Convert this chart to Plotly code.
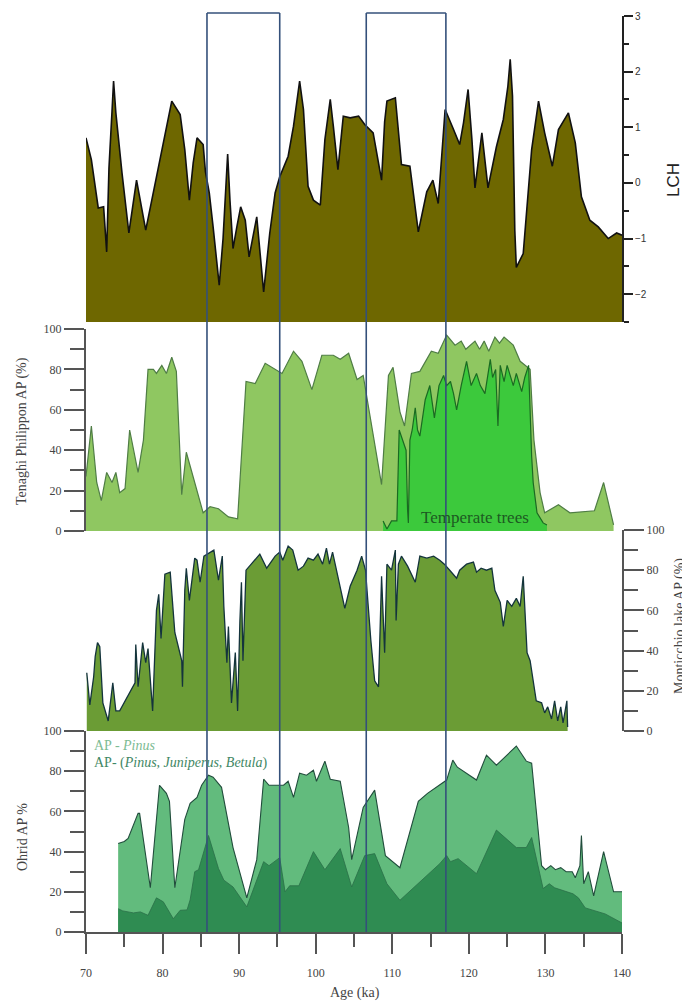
import plotly.graph_objects as go

# page body has an 8px default margin; the figure is sized/positioned to compensate
PAGE_W, PAGE_H, OFF = 690, 1003, 8
W, H = PAGE_W - OFF, PAGE_H - OFF

# ---------------- data ----------------
lch_age = [70.0, 70.7, 71.6, 72.3, 72.7, 73.0, 73.4, 73.6, 73.9, 74.7, 75.6, 76.6, 77.8, 79.2, 80.1, 81.2, 82.3,
           82.9, 83.5, 84.0, 84.5, 85.3, 85.6, 86.1, 86.6, 87.4, 87.9, 88.2, 88.5, 88.8, 89.2, 89.7, 90.2, 90.8,
           91.3, 92.3, 92.8, 93.2, 94.0, 94.7, 95.3, 96.4, 97.1, 97.9, 98.4, 99.0, 99.7, 100.6, 101.2, 101.9,
           102.3, 102.9, 103.6, 104.5, 105.6, 106.4, 107.5, 108.6, 109.0, 109.3, 110.4, 111.2, 112.3, 113.4,
           114.5, 115.3, 116.0, 116.9, 118.0, 118.8, 119.3, 119.9, 120.4, 120.8, 121.7, 122.5, 123.6, 124.5,
           125.1, 125.4, 125.7, 126.0, 126.2, 127.1, 128.2, 129.1, 129.9, 130.9, 131.7, 133.0, 133.9, 134.7,
           135.8, 136.9, 138.2, 139.3, 140.0]
lch_val = [0.81, 0.42, -0.45, -0.43, -1.24, 0.27, 1.29, 1.83, 1.26, 0.18, -0.9, 0.05, -0.85, 0.11, 0.72, 1.47, 1.23,
           0.6, -0.31, 0.36, 0.81, 0.69, 0.2, -0.18, -0.79, -1.84, -1.0, -0.31, 0.52, -0.31, -1.18, -0.79, -0.43, -0.67,
           -1.33, -0.61, -1.33, -1.96, -0.9, -0.18, 0.11, 0.48, 1.02, 1.83, 1.32, -0.06, -0.31, -0.4, 0.78, 1.5,
           1.02, 0.24, 1.2, 1.17, 1.2, 1.05, 0.9, 0.05, 1.1, 1.47, 1.53, 0.33, 0.3, -0.88,
           -0.16, 0.05, -0.37, 1.32, 0.96, 0.69, 1.08, 1.68, 0.78, -0.09, 0.9, -0.09, 0.65, 1.14,
           1.74, 2.22, 1.56, -0.85, -1.52, -1.27, 0.6, 1.47, 0.9, 0.3, 0.96, 1.26, 0.72, -0.25,
           -0.67, -0.79, -1.0, -0.9, -0.94]
LCH_MIN, LCH_MAX = -2.5, 3

ten_age = [70.0, 70.7, 71.4, 72.0, 72.7, 73.4, 73.9, 74.4, 75.1, 75.7, 76.8, 77.5, 78.1, 78.8, 79.2, 79.9, 80.5,
           81.2, 81.8, 82.5, 83.1, 85.3, 86.2, 87.3, 88.6, 89.8, 90.9, 92.1, 93.4, 94.7, 95.6, 97.1, 98.2, 99.5,
           100.8, 102.3, 103.2, 104.3, 105.4, 106.2, 108.6, 109.5, 110.1, 111.0, 111.6, 112.5, 113.6, 115.1,
           116.0, 117.1, 118.2, 119.0, 119.6, 120.8, 121.4, 122.0, 122.6, 123.4, 124.0, 124.6, 125.8, 126.7,
           128.0, 128.5, 129.3, 129.9, 131.7, 133.2, 135.8, 136.4, 137.6, 138.9]
ten_val = [27, 52, 24, 15, 29, 24, 29, 19, 21, 50, 29, 45, 80, 80, 78, 82, 78,
           86, 79, 18, 39, 9, 12, 11, 7, 6, 74, 73, 83, 80, 78, 89, 84, 70,
           87, 87, 85, 88, 75, 77, 23, 77, 81, 59, 52, 78, 79, 89,
           88, 97, 92, 94, 90, 94, 90, 94, 89, 96, 93, 96, 92, 84,
           80, 45, 19, 9, 13, 9, 10, 10, 24, 3]

temp_age = [108.8, 109.3, 109.9, 110.6, 110.9, 111.3, 111.8, 112.0, 112.1, 112.3, 112.6, 113.0, 113.3, 113.6,
            114.0, 114.3, 114.9, 115.5, 116.1, 116.7, 117.1, 117.6, 118.0, 118.4, 119.0, 119.3, 119.7, 120.3,
            121.0, 121.5, 122.1, 122.8, 123.1, 123.5, 123.8, 124.1, 124.6, 125.0, 125.8, 126.2, 126.9, 127.3,
            127.8, 128.2, 128.4, 128.9, 129.7, 130.2]
temp_val = [5, 1, 5, 5, 50, 45, 40, 10, 4, 45, 50, 61, 50, 47,
            58, 65, 72, 56, 72, 77, 72, 74, 68, 60, 72, 77, 84, 72,
            78, 72, 68, 85, 76, 80, 52, 82, 74, 82, 72, 78, 69, 76,
            82, 37, 24, 9, 4, 3]

mon_age = [70.1, 70.5, 71.0, 71.2, 71.5, 71.8, 72.2, 72.9, 73.5, 73.9, 74.4, 75.7, 76.4, 76.5, 76.8, 77.4, 77.8,
           78.1, 78.7, 79.2, 79.5, 79.8, 80.3, 81.0, 81.6, 82.5, 82.6, 82.9, 83.1, 83.5, 84.2, 84.5, 84.9, 85.4,
           85.9, 86.7, 87.3, 87.8, 88.0, 88.4, 88.6, 89.0, 89.5, 89.8, 90.1, 90.3, 90.5, 90.9, 91.8, 92.7, 93.6,
           94.7, 95.3, 95.7, 96.4, 97.0, 97.7, 98.4, 99.0, 99.7, 100.3, 100.9, 101.4, 101.8, 102.2, 102.7, 103.4,
           103.8, 104.5, 105.4, 106.0, 106.5, 107.2, 107.7, 108.2, 108.4, 108.6, 109.0, 109.3, 109.9, 110.4,
           110.5, 110.8, 111.2, 112.0, 113.0, 113.6, 114.5, 115.4, 116.2, 116.8, 117.5, 118.4, 118.8, 119.7,
           120.6, 121.0, 121.6, 122.3, 123.0, 123.4, 124.1, 124.5, 125.0, 125.6, 126.2, 126.7, 127.1, 127.6,
           128.0, 128.8, 129.5, 129.9, 130.3, 130.8, 131.2, 131.6, 132.0, 132.3, 132.8, 132.9]
mon_val = [29, 13, 27, 37, 44, 42, 14, 5, 24, 10, 10, 19, 24, 43, 22, 44, 34,
           41, 10, 60, 68, 46, 78, 79, 49, 35, 22, 70, 81, 65, 86, 85, 74, 87,
           88, 90, 75, 87, 62, 34, 52, 14, 39, 10, 55, 74, 35, 80, 84, 88, 81,
           87, 89, 85, 92, 90, 80, 82, 86, 85, 88, 83, 91, 83, 89, 80, 67,
           61, 72, 80, 87, 80, 45, 25, 22, 55, 77, 39, 83, 80, 90,
           55, 83, 87, 82, 74, 87, 86, 87, 85, 83, 80, 76, 80, 83,
           84, 79, 81, 80, 81, 70, 64, 52, 65, 62, 66, 62, 77, 39,
           35, 15, 14, 9, 12, 6, 15, 5, 12, 4, 15, 2]

ohr_pinus_age = [74.2, 75.0, 75.5, 76.8, 77.0, 78.4, 79.6, 80.2, 80.5, 80.9, 81.6, 82.9, 83.6, 84.5, 85.1, 86.0,
                 86.6, 87.7, 89.2, 91.0, 92.3, 93.2, 93.9, 95.3, 95.8, 96.4, 97.1, 97.9, 98.8, 99.7, 100.1, 101.2,
                 101.9, 103.2, 104.3, 104.7, 106.2, 107.7, 109.1, 111.0, 113.4, 114.6, 116.2, 117.1, 117.9, 118.5,
                 121.0, 122.3, 123.6, 126.2, 127.5, 128.2, 129.5, 130.0, 130.7, 131.3, 132.0, 132.7, 133.5, 133.9,
                 134.5, 134.7, 135.0, 135.6, 136.3, 137.6, 138.9, 140.0]
ohr_pinus_val = [44, 45, 46.5, 59, 59, 22, 73, 70, 69, 65, 22, 56, 64, 67, 73, 78,
                 77, 72, 42, 17, 36, 76, 73, 73, 73, 75, 67, 79, 78, 80.5, 75, 85,
                 76, 75, 52, 36, 62, 70.6, 38, 32, 65, 69, 73, 75.6, 85.5, 82,
                 75.6, 88, 83, 92.5, 85, 84, 33, 31, 33, 31, 32, 30, 30, 27,
                 33, 48, 24, 30, 18, 40, 20, 20]

ohr_pjb_age = [74.2, 74.8, 76.2, 77.1, 78.1, 79.2, 80.1, 81.4, 82.3, 83.2, 83.6, 84.2, 84.7, 86.0, 87.3, 88.0,
               89.2, 91.0, 93.2, 93.9, 95.3, 96.0, 96.6, 97.8, 99.7, 101.2, 103.2, 104.3, 104.7, 106.4, 107.7,
               109.3, 111.0, 116.2, 117.1, 117.6, 118.6, 121.0, 123.6, 126.2, 127.5, 128.2, 129.7, 130.5, 131.2,
               133.6, 134.3, 135.2, 136.9, 137.8, 140.0]
ohr_pjb_val = [11.6, 10.5, 9.5, 10, 8.3, 17, 15, 6.6, 10.8, 11, 16, 30, 31, 48, 31.6, 25.8,
               22.4, 12.5, 35, 33, 37, 20, 23, 23, 40, 31, 41.5, 27, 22.4, 38, 39,
               24, 15.8, 34, 38, 35, 36.5, 29, 50.7, 42, 42, 47, 21.6, 24, 22,
               19, 17, 12, 10, 9, 4.5]

# highlighted intervals (ka)
intervals = [(85.8, 95.3), (106.6, 117.0)]

x_ticks = [70, 80, 90, 100, 110, 120, 130, 140]

# ---------------- figure ----------------
SERIF = "Liberation Serif, Times New Roman, serif"
SANS = "Liberation Sans, Arial, sans-serif"


def px(x):
    return (x - OFF) / W


def py(y):
    return 1 - (y - OFF) / H


fig = go.Figure()

# LCH (top)
fig.add_trace(go.Scatter(x=[lch_age[0], lch_age[-1]], y=[LCH_MIN, LCH_MIN], mode="lines",
                         line=dict(width=0), xaxis="x", yaxis="y", showlegend=False, hoverinfo="skip"))
fig.add_trace(go.Scatter(x=lch_age, y=lch_val, mode="lines", fill="tonexty", fillcolor="#6e6700",
                         line=dict(color="#111111", width=1.6), xaxis="x", yaxis="y", showlegend=False))

# Tenaghi Philippon
fig.add_trace(go.Scatter(x=ten_age, y=ten_val, mode="lines", fill="tozeroy", fillcolor="#8fc761",
                         line=dict(color="#4f7d45", width=1.2), xaxis="x", yaxis="y2", showlegend=False))
fig.add_trace(go.Scatter(x=temp_age, y=temp_val, mode="lines", fill="tozeroy", fillcolor="#3cc93c",
                         line=dict(color="#1a6a22", width=1.2), xaxis="x", yaxis="y2", showlegend=False))

# Monticchio
fig.add_trace(go.Scatter(x=mon_age, y=mon_val, mode="lines", fill="tozeroy", fillcolor="#6b9c35",
                         line=dict(color="#14343c", width=1.3), xaxis="x", yaxis="y3", showlegend=False))

# Ohrid
fig.add_trace(go.Scatter(x=ohr_pinus_age, y=ohr_pinus_val, mode="lines", fill="tozeroy", fillcolor="#62bb7d",
                         line=dict(color="#214d3c", width=1.1), xaxis="x", yaxis="y4", showlegend=False))
fig.add_trace(go.Scatter(x=ohr_pjb_age, y=ohr_pjb_val, mode="lines", fill="tozeroy", fillcolor="#2f8c52",
                         line=dict(color="#2a6e48", width=0.8), xaxis="x", yaxis="y4", showlegend=False))

# rectangles
shapes = []
RC = "#34507a"
ytop, ybot = py(13), py(932)
for a, b in intervals:
    shapes.append(dict(type="line", xref="x", yref="paper", x0=a, x1=a, y0=ybot, y1=ytop, line=dict(color=RC, width=1.6)))
    shapes.append(dict(type="line", xref="x", yref="paper", x0=b, x1=b, y0=ybot, y1=ytop, line=dict(color=RC, width=1.6)))
    shapes.append(dict(type="line", xref="x", yref="paper", x0=a, x1=b, y0=ytop, y1=ytop, line=dict(color=RC, width=1.6)))

AX = "#555555"
pct_axis = dict(range=[0, 100], tick0=0, dtick=20, ticks="outside", ticklen=20, tickwidth=2, tickcolor=AX,
                showline=True, linecolor=AX, linewidth=2, showgrid=False, zeroline=False, automargin=False,
                tickfont=dict(family=SERIF, size=12, color="#444"),
                minor=dict(dtick=10, ticks="outside", ticklen=14, tickwidth=2, tickcolor=AX))

fig.update_layout(
    width=W, height=H, margin=dict(l=0, r=0, t=0, b=0),
    paper_bgcolor="white", plot_bgcolor="rgba(0,0,0,0)",
    showlegend=False,
    xaxis=dict(domain=[px(86), px(622)], range=[70, 140], anchor="y4", tickvals=x_ticks,
               ticks="outside", ticklen=20, tickwidth=2, tickcolor=AX, showline=True, linecolor=AX, linewidth=2,
               showgrid=False, zeroline=False, ticklabelstandoff=9, automargin=False,
               tickfont=dict(family=SERIF, size=12, color="#444"),
               minor=dict(tick0=75, dtick=10, ticks="outside", ticklen=13, tickwidth=2, tickcolor=AX)),
    yaxis=dict(domain=[py(322), py(16)], range=[LCH_MIN, LCH_MAX], anchor="x", side="right",
               tick0=0, dtick=1, ticks="outside", ticklen=9, tickwidth=2, tickcolor="#222",
               showline=True, linecolor="#222", linewidth=2, showgrid=False, zeroline=False, automargin=False,
               tickfont=dict(family=SANS, size=10, color="#333"),
               minor=dict(dtick=0.5, ticks="outside", ticklen=5, tickwidth=2, tickcolor="#222")),
    yaxis2=dict(domain=[py(531), py(329)], anchor="x", side="left", **pct_axis),
    yaxis3=dict(domain=[py(731), py(530)], anchor="x", side="right", **pct_axis),
    yaxis4=dict(domain=[py(932), py(731)], anchor="x", side="left", **pct_axis),
    shapes=shapes,
)

ann = [
    dict(text="LCH", x=px(673), y=py(180), textangle=-90, font=dict(family=SANS, size=17, color="#222")),
    dict(text="Tenaghi Philippon AP (%)", x=px(22), y=py(431), textangle=-90, font=dict(family=SERIF, size=14, color="#444")),
    dict(text="Monticchio lake AP (%)", x=px(680), y=py(626), textangle=-90, font=dict(family=SERIF, size=14, color="#444")),
    dict(text="Ohrid AP %", x=px(22), y=py(837), textangle=-90, font=dict(family=SERIF, size=14, color="#444")),
    dict(text="Age (ka)", x=px(355), y=py(993), font=dict(family=SERIF, size=14, color="#444")),
    dict(text="Temperate trees", x=px(475), y=py(517), font=dict(family=SERIF, size=17, color="#1d5a22")),
    dict(text="AP - <i>Pinus</i>", x=px(92), y=py(745), xanchor="left", font=dict(family=SERIF, size=14, color="#7dbb93")),
    dict(text="AP- (<i>Pinus, Juniperus, Betula</i>)", x=px(92), y=py(763), xanchor="left",
         font=dict(family=SERIF, size=14, color="#3f8764")),
]
for a in ann:
    a.setdefault("xanchor", "center")
    a.update(xref="paper", yref="paper", yanchor="middle", showarrow=False)
fig.update_layout(annotations=ann)

fig.write_html("out.html")
